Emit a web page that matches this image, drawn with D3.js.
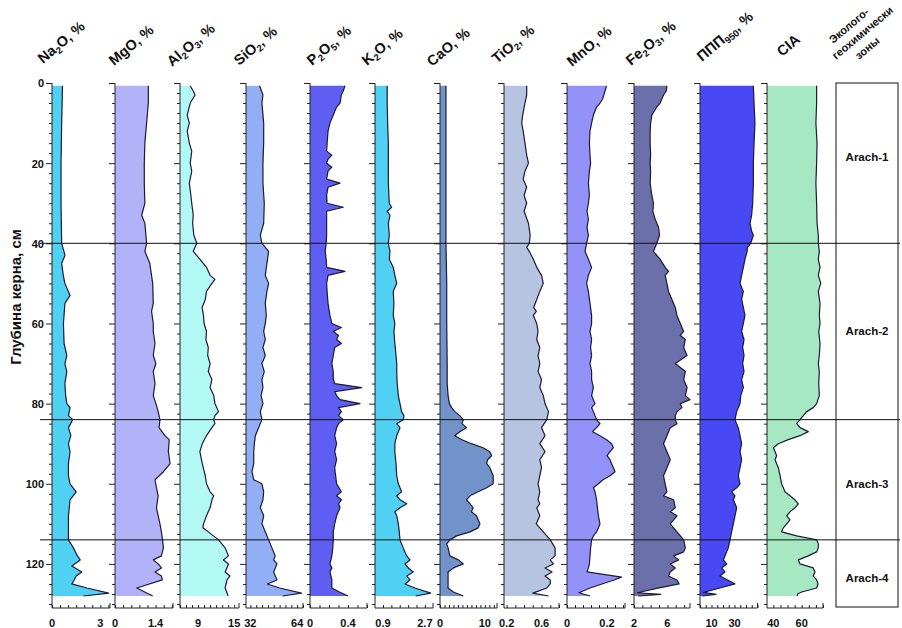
<!DOCTYPE html>
<html><head><meta charset="utf-8">
<script src="https://cdn.jsdelivr.net/npm/d3@7/dist/d3.min.js"></script>
<style>
body{margin:0;background:#fff}
svg{display:block;font-family:"Liberation Sans",Arial,sans-serif}
</style>
</head><body>
<svg id="chart" width="902" height="628"></svg>
<script>
// ---------------- DATA ----------------
const depthTicks = [0,20,40,60,80,100,120];
const zoneBounds = [40,84,114];
const zoneNames = ["Arach-1","Arach-2","Arach-3","Arach-4"];
const zoneLabelDepths = [18.5,62,100,123.5];

// [depth cm, value]
const na2o = [[0.7,0.65],[5,0.63],[10,0.6],[15,0.58],[20,0.56],[25,0.56],[30,0.56],[35,0.58],[40,0.6],[43,0.81],[45,0.6],[48,0.7],[50,0.8],[53,1.12],[55,0.8],[60,0.71],[65,0.75],[68,0.92],[70,0.8],[72,0.92],[75,0.8],[78,0.85],[80,0.92],[81,1.12],[83,1.02],[84,1.29],[86,1.02],[88,1.17],[90,1.02],[92,1.12],[95,1.02],[98,1.02],[100,1.12],[102,1.5],[104,1.12],[108,1.02],[112,1.02],[114,1.02],[116,1.33],[118,1.58],[119,1.75],[120.5,1.23],[122,1.85],[123,1.5],[124,1.38],[125,1.23],[126,2.17],[127.3,3.52],[128,1.96]];
const mgo = [[0.7,1.15],[5,1.15],[10,1.09],[15,1.03],[20,1.01],[25,1.01],[30,1.03],[33,0.92],[35,1.03],[40,1.09],[42,1.03],[45,1.2],[50,1.3],[55,1.32],[57,1.26],[60,1.32],[62,1.32],[65,1.38],[68,1.32],[70,1.41],[72,1.32],[75,1.38],[78,1.32],[80,1.41],[82,1.49],[84,1.55],[86,1.52],[88,1.72],[89,1.87],[92,1.84],[95,1.9],[97,1.67],[99,1.38],[101,1.43],[103,1.49],[106,1.43],[108,1.49],[110,1.55],[112,1.6],[114,1.64],[116,1.67],[118,1.6],[119,1.32],[120,1.49],[121,1.6],[122,1.38],[123,1.6],[124,1.63],[126,0.75],[128,1.3]];
const al2o3 = [[0.7,7.67],[2,8.2],[3,8.5],[5,7.7],[8,7.2],[10,7.55],[12,7.2],[15,7.55],[17,7.95],[20,7.7],[22,7.95],[25,7.55],[28,7.8],[30,7.95],[33,8.2],[35,8.1],[38,8.3],[40,8.8],[42,8.2],[44,9.33],[46,10.4],[48,11],[49,11.8],[50,11.3],[52,10.4],[54,10.2],[56,9.67],[58,9.9],[60,10],[62,10.4],[64,10.3],[66,10.7],[68,10.6],[70,11],[72,10.7],[74,11.3],[76,11],[78,11.6],[80,11.8],[82,12.4],[83,11.8],[84,11.6],[85,11.8],[86,11.3],[88,10.4],[90,9.7],[92,9.3],[95,9.7],[98,10.2],[100,10.4],[102,11],[103,11.6],[104,11.3],[106,11],[108,10.4],[110,9.9],[111,9.8],[112,10.7],[114,12.4],[116,13.5],[118,14.05],[119,13.2],[120,14.05],[122,13.5],[123,14.3],[124,13.8],[126,13.5],[128,14]];
const sio2 = [[0.7,38.3],[3,40.6],[5,39.9],[10,41.1],[15,41.1],[20,40.6],[25,40.6],[30,41.5],[35,41.1],[38,38.8],[40,39.9],[42,44.5],[45,43.3],[48,42.2],[50,44.5],[52,43.3],[55,42.2],[58,42.9],[60,42.2],[62,41.1],[64,42.2],[66,40.6],[68,42.2],[70,39.9],[72,41.5],[74,39.9],[76,40.6],[78,39.3],[80,40.6],[82,38.8],[84,39.9],[86,37.6],[88,35.4],[90,34.7],[92,34.3],[95,34.3],[97,33.1],[99,34.3],[100,39.9],[102,41.1],[104,40.6],[106,38.8],[108,41.1],[110,39.9],[112,42.2],[114,44.5],[116,46.7],[118,49],[119,47.9],[120,50.2],[122,47.9],[124,50.2],[125,43.6],[126,52],[127.3,67],[128,54]];
const p2o5 = [[0.7,0.368],[2,0.35],[3,0.33],[5,0.316],[6,0.28],[8,0.245],[10,0.21],[12,0.19],[15,0.18],[17,0.175],[18,0.23],[19,0.19],[20,0.175],[21,0.23],[22,0.19],[24,0.175],[25,0.316],[26,0.19],[28,0.175],[30,0.18],[31,0.35],[32,0.175],[35,0.175],[38,0.175],[40,0.17],[42,0.16],[44,0.17],[46,0.175],[47,0.368],[48,0.19],[50,0.175],[52,0.18],[55,0.19],[58,0.21],[60,0.23],[61,0.33],[62,0.245],[63,0.3],[64,0.28],[65,0.33],[66,0.26],[68,0.245],[70,0.23],[72,0.245],[74,0.245],[75,0.26],[76,0.544],[77,0.26],[78,0.28],[79,0.316],[80,0.526],[81,0.3],[82,0.33],[83,0.3],[84,0.35],[85,0.3],[86,0.28],[88,0.26],[90,0.28],[92,0.26],[94,0.28],[96,0.26],[98,0.27],[100,0.28],[102,0.33],[103,0.28],[104,0.33],[105,0.3],[106,0.316],[108,0.28],[110,0.26],[112,0.245],[114,0.245],[116,0.24],[118,0.23],[120,0.21],[121,0.23],[122,0.21],[124,0.23],[126,0.23],[127,0.31],[128,0.4]];
const k2o = [[0.7,1.08],[5,1.08],[10,1.1],[15,1.13],[20,1.13],[25,1.13],[30,1.17],[31,1.27],[32,1.08],[33,1.2],[35,1.13],[38,1.17],[40,1.13],[42,1.2],[44,1.17],[46,1.34],[48,1.41],[50,1.49],[52,1.34],[55,1.37],[58,1.34],[60,1.41],[62,1.37],[65,1.41],[68,1.46],[70,1.49],[72,1.49],[75,1.51],[78,1.56],[80,1.63],[82,1.7],[83,1.8],[84,1.77],[85,1.49],[86,1.63],[88,1.49],[90,1.41],[92,1.41],[95,1.46],[98,1.49],[100,1.56],[102,1.7],[103,1.49],[104,1.63],[105,1.92],[106,1.63],[107,1.41],[108,1.49],[110,1.56],[112,1.6],[114,1.63],[116,1.77],[118,1.92],[119,2.06],[120,1.84],[121,1.99],[122,2.2],[123,1.92],[124,2.06],[125,1.85],[126,2.27],[127.3,2.95],[128,2.3]];
const cao = [[0.7,1.33],[20,1.33],[40,1.33],[50,1.5],[60,1.5],[70,1.6],[75,1.6],[78,1.8],[80,2.1],[81,2.6],[82,3.3],[83,4.4],[84,5.2],[85,4.9],[86,5.9],[87,4.4],[88,3.3],[89,4.9],[90,7.0],[91,9.6],[92,11.1],[93,11.5],[94,10.6],[95,10.4],[96,11.1],[98,11.85],[100,11.85],[101,10.4],[102,8.5],[103,6.7],[104,5.9],[105,6.7],[106,7.4],[107,7.0],[108,8.1],[110,8.9],[111,8.5],[112,6.7],[113,3.7],[114,2.2],[115,1.5],[116,1.8],[118,2.2],[119,4.1],[120,5.2],[121,3.0],[122,1.8],[124,1.8],[126,1.8],[127,3.0],[128,5.2]];
const tio2 = [[0.7,0.43],[3,0.43],[5,0.41],[8,0.384],[10,0.373],[12,0.39],[15,0.41],[18,0.43],[20,0.45],[22,0.41],[24,0.39],[26,0.43],[28,0.4],[30,0.43],[32,0.4],[35,0.45],[38,0.47],[40,0.46],[41,0.43],[42,0.46],[44,0.506],[46,0.545],[48,0.6],[50,0.62],[52,0.58],[54,0.545],[56,0.51],[57,0.54],[58,0.506],[60,0.545],[62,0.56],[64,0.545],[66,0.58],[68,0.56],[70,0.58],[72,0.56],[74,0.6],[76,0.58],[78,0.62],[80,0.64],[82,0.68],[84,0.66],[86,0.6],[88,0.64],[90,0.58],[92,0.64],[94,0.58],[96,0.6],[98,0.58],[100,0.56],[102,0.58],[104,0.56],[105,0.58],[106,0.545],[108,0.58],[110,0.54],[111,0.58],[112,0.62],[114,0.7],[116,0.755],[118,0.755],[119,0.7],[120,0.735],[121,0.64],[122,0.72],[123,0.64],[124,0.7],[125,0.7],[126,0.66],[127.3,0.5],[128,0.68]];
const mno = [[0.7,0.198],[2,0.19],[4,0.178],[5,0.165],[6,0.148],[8,0.132],[10,0.123],[12,0.115],[15,0.112],[18,0.115],[20,0.118],[22,0.112],[25,0.107],[28,0.112],[30,0.107],[32,0.1],[34,0.107],[36,0.1],[38,0.107],[40,0.098],[42,0.09],[44,0.107],[46,0.123],[48,0.107],[50,0.098],[52,0.107],[55,0.115],[58,0.123],[60,0.123],[62,0.115],[64,0.123],[66,0.118],[68,0.123],[70,0.115],[72,0.123],[74,0.123],[76,0.132],[78,0.123],[80,0.14],[81,0.123],[82,0.132],[83,0.14],[84,0.148],[85,0.165],[86,0.148],[87,0.128],[88,0.165],[89,0.198],[90,0.223],[91,0.232],[92,0.215],[93,0.2],[94,0.215],[95,0.223],[96,0.232],[97,0.24],[98,0.215],[99,0.18],[100,0.157],[101,0.132],[102,0.14],[104,0.148],[106,0.152],[108,0.157],[110,0.165],[111,0.157],[112,0.148],[113,0.132],[114,0.123],[116,0.118],[118,0.115],[120,0.112],[121,0.107],[122,0.1],[123.3,0.273],[124,0.235],[125,0.175],[126,0.115],[127.2,0.06],[128,0.115]];
const fe2o3 = [[0.7,5.94],[2,5.86],[3,5.53],[5,5.13],[6,4.73],[8,4.13],[10,3.99],[12,3.93],[15,3.93],[18,3.99],[20,3.93],[22,3.99],[25,3.93],[28,4.13],[30,4.33],[32,4.25],[34,4.53],[36,4.93],[38,5.06],[40,4.73],[41,4.53],[42,4.33],[43,4.73],[44,5.13],[46,5.73],[47,6.13],[48,5.73],[50,5.94],[52,6.13],[54,6.54],[56,6.94],[58,7.14],[60,7.54],[62,7.94],[63,7.54],[64,8.14],[66,7.94],[68,8.35],[70,6.94],[71,7.54],[72,8.14],[74,7.94],[76,8.35],[78,8.14],[79,8.7],[80,7.54],[81,7.74],[82,7.14],[83,6.94],[84,6.94],[85,7.14],[86,6.34],[88,5.94],[90,5.53],[92,5.94],[94,6.34],[96,5.94],[98,5.53],[100,5.73],[102,5.94],[103,5.53],[104,6.74],[106,6.94],[107,6.34],[108,7.14],[110,6.34],[112,7.14],[114,7.94],[116,8.14],[117,7.94],[118,6.74],[119,7.34],[120,6.34],[121,6.94],[122,6.34],[123,6.13],[124,7.14],[125,7.4],[126,5.0],[127.2,2.4],[127.6,5.2],[128,2.5]];
const ppp = [[0.7,46.4],[5,47],[10,47.8],[15,47],[20,46.4],[25,46.4],[30,45.8],[33,44.9],[35,43.5],[37,44.9],[38,46.4],[40,44.1],[41,41.2],[42,41],[44,39.1],[46,37.7],[48,36.2],[50,34.8],[52,37.7],[54,36.2],[56,37.7],[58,39.1],[60,37.7],[62,36.2],[64,38.3],[66,37.1],[68,38.3],[70,37.1],[72,38.3],[74,36.2],[76,37.7],[78,35.4],[80,34.8],[82,31.9],[84,30.4],[86,33.3],[88,34.8],[90,36.2],[92,34.8],[94,36.2],[96,34.8],[98,33.3],[100,34.8],[101,31.9],[102,27.5],[103,30.4],[104,29],[106,31.9],[108,30.4],[110,29],[112,27.5],[114,26.1],[116,24.6],[118,21.7],[119,20.3],[120,23.2],[121,18.8],[122,21.7],[123,17.4],[124,24],[125,30.4],[126,17.4],[127.1,2.9],[127.6,14],[128,2]];
const cia = [[0.7,70.5],[5,70.5],[10,70],[15,70.8],[20,70.5],[25,70],[30,70.5],[35,70.8],[38,71.7],[40,71.7],[42,72.4],[44,71.7],[46,72.9],[48,71.7],[50,73.4],[52,71.7],[55,72.9],[58,72.4],[60,72.9],[62,72],[65,72.9],[68,72.4],[70,71.7],[72,72.4],[75,72],[78,72.4],[80,70.5],[81,68.1],[82,63.5],[83,61.1],[84,58.8],[85,56.4],[86,58.8],[87,64.6],[88,58.8],[89,50.5],[90,43.5],[91,40],[92,41.2],[93,42.3],[94,41.2],[95,42.3],[96,43.5],[98,44.7],[100,45.8],[102,48.2],[103,51.7],[104,55.2],[105,57.6],[106,55.2],[107,51.7],[108,49.4],[109,51.7],[110,49.4],[111,47],[112,45.8],[113,56.4],[114,70.5],[115,71.7],[116,71.7],[117,70.5],[118,64.6],[119,57.6],[120,58.8],[121,68.1],[122,69.3],[123,68.1],[124,70.5],[125,71.5],[126,70.5],[127,60],[127.5,57],[128,57]];

const bottomTickLabels = [[0,3],[0,1.4],[9,15],[32,64],[0,0.4],[0.9,2.7],[0,10],[0.2,0.6],[0,0.2],[2,6],[10,30],[40,60]];

// ---------------- LAYOUT ----------------
const panels = [
  {data:na2o,  dom:[0,3.6],     rng:[52,110],  step:0.5,  fill:"#50d0f2", head:[["Na"],["2",1],["O, %"]], hx:43, hy:64},
  {data:mgo,   dom:[0,2],       rng:[115,173], step:0.28, fill:"#b2b2f8", head:[["MgO, %"]], hx:114, hy:66},
  {data:al2o3, dom:[6,15.8],    rng:[180,239], step:1,    fill:"#b2f8f4", head:[["Al"],["2",1],["O"],["3",1],[", %"]], hx:172, hy:67},
  {data:sio2,  dom:[29,68],     rng:[246,303], step:4,    fill:"#92aef5", head:[["SiO"],["2",1],[", %"]], hx:239, hy:66},
  {data:p2o5,  dom:[0,0.6],     rng:[310,367], step:0.1,  fill:"#5e5ef2", head:[["P"],["2",1],["O"],["5",1],[", %"]], hx:312, hy:66},
  {data:k2o,   dom:[0.556,3.05],rng:[375,433], step:0.36, fill:"#50d0f2", head:[["K"],["2",1],["O, %"]], hx:367, hy:66},
  {data:cao,   dom:[0,12.7],    rng:[440,497], step:1,    fill:"#7292ca", head:[["CaO, %"]], hx:432, hy:67},
  {data:tio2,  dom:[0.17,0.8],  rng:[504,559], step:0.1,  fill:"#b6c4e2", head:[["TiO"],["2",1],[", %"]], hx:497, hy:64},
  {data:mno,   dom:[0,0.29],    rng:[567,625], step:0.04, fill:"#9292f8", head:[["MnO, %"]], hx:572, hy:67},
  {data:fe2o3, dom:[2,8.7],     rng:[634,690], step:1,    fill:"#6c70aa", head:[["Fe"],["2",1],["O"],["3",1],[", %"]], hx:631, hy:66},
  {data:ppp,   dom:[0,50],      rng:[700,757.5],step:5,   fill:"#4848f4", head:[["ППП"],["950",1],[", %"]], hx:702, hy:62},
  {data:cia,   dom:[35.5,75],   rng:[767,823], step:5,    fill:"#a6e8c2", head:[["CIA"]], hx:782, hy:57}
];
const strokeCol = "#1a1a3a";
const depthDomain = [0,131];
const yTop = 83, yBottom = 608;
const zoneBox = {x0:836, x1:898};
const headAngle = -40;

const svg = d3.select("#chart");
const y = d3.scaleLinear().domain(depthDomain).range([yTop,yBottom]);

function tickVals(dom, anchor, step){
  const out=[];
  let k0=Math.ceil((dom[0]-anchor)/step-1e-6);
  for(let k=k0; anchor+k*step<=dom[1]+1e-6; k++) out.push(+(anchor+k*step).toFixed(4));
  return out;
}

const depthMinor = d3.range(0,131,2.5);

panels.forEach((p,i)=>{
  const x = d3.scaleLinear().domain(p.dom).range(p.rng);
  const g = svg.append("g");
  const area = d3.area().y(d=>y(d[0])).x0(x(p.dom[0])).x1(d=>x(d[1]));
  const line = d3.line().y(d=>y(d[0])).x(d=>x(d[1]));
  g.append("path").datum(p.data).attr("d",area).attr("fill",p.fill);
  g.append("path").datum(p.data).attr("d",line).attr("fill","none").attr("stroke",strokeCol).attr("stroke-width",1.2).attr("stroke-linejoin","round");

  // left depth axis
  const ax = d3.axisLeft(y).tickValues(depthMinor).tickSize(3).tickFormat("");
  const ga = g.append("g").attr("transform",`translate(${p.rng[0]},0)`).call(ax);
  ga.select(".domain").attr("stroke","#222").attr("d",`M0,${yTop}V${yBottom}`);
  ga.selectAll(".tick line").attr("stroke","#222").attr("x2",d=>d%20===0?-6:-3);
  if(i===0){
    ga.selectAll(".tick").filter(d=>depthTicks.includes(d)).append("text")
      .attr("x",-8).attr("dy","0.35em").attr("text-anchor","end")
      .attr("fill","#111").attr("font-size",11).attr("font-weight","bold")
      .text(d=>d);
  }

  // bottom value axis
  const labs = bottomTickLabels[i];
  const tv = tickVals(p.dom, labs[0], p.step);
  const bx = d3.axisBottom(x).tickValues(tv).tickSize(-3).tickFormat("");
  const gb = g.append("g").attr("transform",`translate(0,${yBottom})`).call(bx);
  gb.select(".domain").attr("stroke","#222").attr("d",`M${p.rng[0]},0H${p.rng[1]}`);
  gb.selectAll(".tick line").attr("stroke","#222");
  gb.append("line").attr("x1",p.rng[1]).attr("x2",p.rng[1]).attr("y1",0).attr("y2",-5).attr("stroke","#222");
  gb.selectAll(".lab").data(labs).enter().append("text")
    .attr("x",d=>x(d)).attr("y",19).attr("text-anchor","middle")
    .attr("fill","#111").attr("font-size",11).attr("font-weight","bold")
    .text(d=>String(d));

  // header
  const t = svg.append("text")
    .attr("transform",`translate(${p.hx},${p.hy}) rotate(${headAngle})`)
    .attr("font-size",14.5).attr("font-weight","bold").attr("fill","#111");
  let sub=false;
  p.head.forEach(([s,isSub])=>{
    const ts = t.append("tspan").text(s);
    if(isSub && !sub){ ts.attr("dy",3).attr("font-size",9.5); sub=true; }
    else if(isSub && sub){ ts.attr("font-size",9.5); }
    else if(!isSub && sub){ ts.attr("dy",-3); sub=false; }
  });
});

// zone separator lines
svg.selectAll(".zl").data(zoneBounds).enter().append("line")
  .attr("x1",40).attr("x2",900).attr("y1",d=>y(d)).attr("y2",d=>y(d))
  .attr("stroke","#111").attr("stroke-width",1);

// zone box
svg.append("rect").attr("x",zoneBox.x0).attr("y",yTop).attr("width",zoneBox.x1-zoneBox.x0).attr("height",yBottom-yTop-1)
  .attr("fill","none").attr("stroke","#111").attr("stroke-width",1);
svg.selectAll(".zn").data(zoneNames).enter().append("text")
  .attr("x",(zoneBox.x0+zoneBox.x1)/2).attr("y",(d,i)=>y(zoneLabelDepths[i])).attr("dy","0.35em")
  .attr("text-anchor","middle").attr("font-size",11.5).attr("font-weight","bold").attr("fill","#111")
  .text(d=>d);

// zones header
const zh = [["Эколого-",833,44],["геохимически",836,60],["зоны",859,60]];
zh.forEach(([s,hx,hy])=>{
  svg.append("text").attr("transform",`translate(${hx},${hy}) rotate(${headAngle})`)
    .attr("font-size",11).attr("font-weight","bold").attr("fill","#111").text(s);
});

// y title
svg.append("text").attr("transform","translate(21,297) rotate(-90)")
  .attr("text-anchor","middle").attr("font-size",15).attr("font-weight","bold").attr("fill","#111")
  .text("Глубина керна, см");
</script>
</body></html>
